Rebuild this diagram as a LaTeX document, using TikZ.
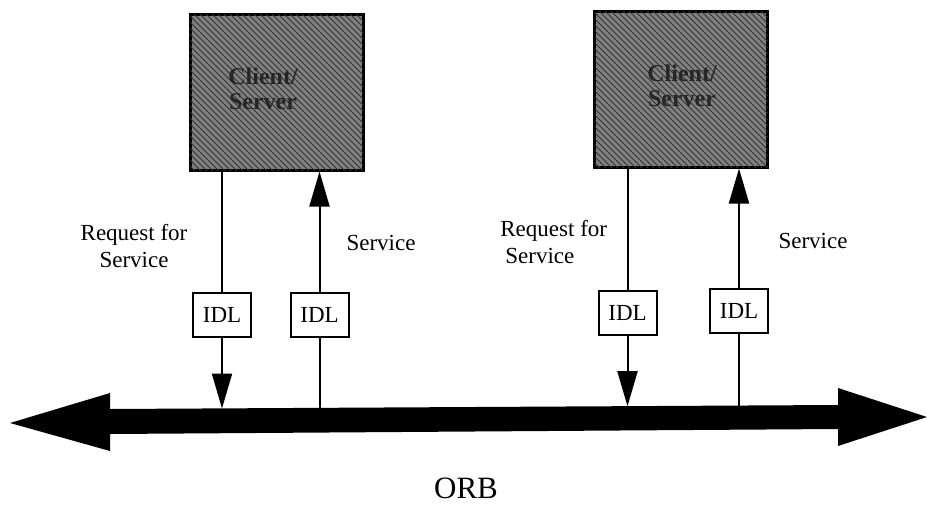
\documentclass[tikz,border=0pt]{standalone}
\usepackage{fontspec}
\setmainfont{Liberation Serif}
\usetikzlibrary{arrows.meta,patterns}
\begin{document}
\begin{tikzpicture}[x=0.5pt,y=-0.5pt,
  csbox/.style={draw=black,line width=1.5pt,fill=black!50,
    postaction={pattern=north west lines,pattern color=black!80},
    minimum width=86.5pt,minimum height=78pt,inner sep=0pt},
  cstext/.style={font=\fontsize{12}{12.5}\selectfont\bfseries,align=center,text=black!85},
  idlbox/.style={draw=black,line width=1pt,fill=white,minimum width=29pt,
    minimum height=22pt,inner sep=0pt,font=\fontsize{11.5}{12}\selectfont},
  lbl/.style={font=\fontsize{11.5}{13.3}\selectfont,inner sep=0pt},
  conn/.style={line width=1pt},
  tip/.style={-{Triangle[width=10pt,length=17.5pt]}}
]
\useasboundingbox (0,0) rectangle (927,504);
% boxes
\node[csbox] (cs1) at (276.5,92) {};
\node[csbox] (cs2) at (681,89) {};
\node[cstext] (t1) at (263,89) {Client/\\Server};
\node[cstext] (t2) at (682,86) {Client/\\Server};
% IDL boxes
\node[idlbox] (i1) at (222,315) {IDL};
\node[idlbox] (i2) at (319.5,315) {IDL};
\node[idlbox] (i3) at (627.5,312.5) {IDL};
\node[idlbox] (i4) at (739,311) {IDL};
% ORB bar
\fill[black] (10,423) -- (110,393) -- (110,409) -- (838,405) -- (838,388)
  -- (927,417) -- (838,446) -- (838,429) -- (110,434) -- (110,451) -- cycle;
\coordinate (b1) at (222,408.5);
\coordinate (b2) at (319.5,408);
\coordinate (b3) at (627.5,406.2);
\coordinate (b4) at (739,405.6);
% connectors
\draw[conn] (cs1.south -| i1) -- (i1.north);
\draw[conn,tip] (i1.south) -- (b1);
\draw[conn,tip] (i2.north) -- (cs1.south -| i2);
\draw[conn] (b2) -- (i2.south);
\draw[conn] (cs2.south -| i3) -- (i3.north);
\draw[conn,tip] (i3.south) -- (b3);
\draw[conn,tip] (i4.north) -- (cs2.south -| i4);
\draw[conn] (b4) -- (i4.south);
% labels
\node[lbl,align=center] (l1) at (134,246) {Request for\\Service};
\node[lbl] (l2) at (381,243) {Service};
\node[lbl,align=left,anchor=west] (l3) at (500,242) {Request for\\\hspace*{2.5pt}Service};
\node[lbl] (l4) at (813,241) {Service};
\node[font=\fontsize{15.5}{16}\selectfont,inner sep=0pt] (orb) at (466,488) {ORB};
\end{tikzpicture}
\end{document}
